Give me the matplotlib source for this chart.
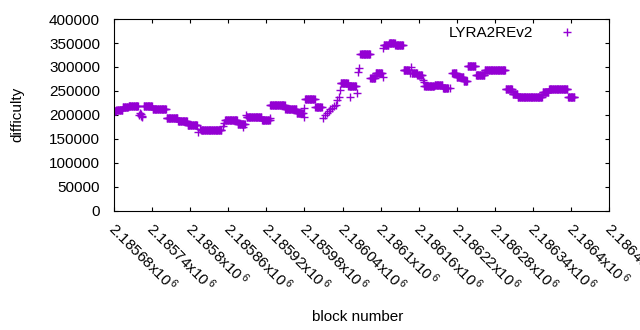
import matplotlib.pyplot as plt
import numpy as np
from matplotlib import transforms

plt.rcParams['font.family'] = ['Liberation Sans', 'DejaVu Sans']
plt.rcParams['mathtext.fontset'] = 'custom'
plt.rcParams['mathtext.rm'] = 'Liberation Sans'
plt.rcParams['mathtext.it'] = 'Liberation Sans'

base = 2185680  # first block on the x axis

# runs of blocks with (about) the same difficulty: start offset, end offset, difficulty
run_start = [0, 4, 14, 23, 47, 61, 83, 101, 116, 137, 175, 195, 209, 233, 246, 270, 288,
             301, 317, 357, 369, 388, 404, 412, 425, 433, 443, 456, 469, 478, 489, 505,
             518, 533, 540, 551, 557, 570, 584, 617, 628, 636, 675, 685, 693, 715]
run_end = [4, 14, 23, 39, 61, 83, 101, 116, 132, 170, 195, 207, 233, 246, 270, 288, 298,
           317, 328, 369, 382, 404, 412, 423, 433, 443, 456, 465, 478, 486, 505, 518,
           527, 540, 551, 557, 570, 584, 617, 628, 636, 675, 685, 693, 715, 726]
run_diff = [208000, 211000, 215500, 218600, 218600, 211300, 192500, 186200, 179000, 168400,
            189300, 181000, 195500, 189000, 220500, 212300, 203000, 233000, 215500, 266700,
            260000, 327000, 278000, 286600, 347000, 351000, 345000, 294000, 286600, 283000,
            260500, 262500, 256000, 287000, 279000, 271000, 303000, 283500, 293000, 253000,
            243700, 236400, 246800, 253000, 255000, 236400]

# single blocks that stand apart from the runs
pt_off = [40, 41, 42, 43, 44, 45, 133, 135, 171, 173, 203, 208, 245, 299, 300,
          329, 332, 335, 338, 341, 343, 346, 349, 352, 354, 356,
          372, 383, 385, 386, 423, 424, 466, 467, 487, 488, 529]
pt_diff = [199000, 203000, 197000, 201000, 195000, 198000, 165000, 171000, 176000, 182000,
           175000, 200000, 193000, 195000, 214000,
           193500, 199000, 204000, 208000, 212000, 214000, 218000, 221000, 230000, 237000, 251000,
           238000, 245000, 290000, 298000, 279000, 340000, 287000, 300000, 272000, 268000, 256000]

xs, ys = [], []
for s, e, d in zip(run_start, run_end, run_diff):
    for b in range(s, e):
        xs.append(base + b)
        ys.append(d)
xs += [base + o for o in pt_off]
ys += pt_diff

xticks = np.arange(2185680, 2186461, 60)
xticklabels = [r'%gx10$\,^{6}$' % (t / 1e6) for t in xticks]

fig = plt.figure(figsize=(6.4, 3.3), dpi=100)
ax = fig.add_axes([0.178, 0.362, 0.774, 0.580])

ax.plot(xs, ys, '+', color='#9400d3', markersize=5.8, markeredgewidth=1.0,
        label='LYRA2REv2', linestyle='none')

ax.set_xlim(2185680, 2186460)
ax.set_ylim(0, 400000)
ax.set_yticks(np.arange(0, 400001, 50000))
ax.set_xticks(xticks)
ax.set_xticklabels(xticklabels, rotation=-45, ha='left', va='center',
                   rotation_mode='anchor', fontsize=11)
ax.tick_params(direction='in', length=3, width=0.8, top=True, right=True,
               labelsize=11)
ax.tick_params(axis='y', pad=10)
ax.tick_params(axis='x', pad=11)
shift = transforms.ScaledTranslation(-2 / 100, 0, fig.dpi_scale_trans)
for t in ax.get_xticklabels():
    t.set_transform(t.get_transform() + shift)

ax.set_xlabel('block number', fontsize=11, va='top')
ax.xaxis.set_label_coords(0.493, -0.52)
ax.set_ylabel('difficulty', fontsize=11)
ax.yaxis.set_label_coords(-0.18, 0.5)

ax.legend(loc='upper right', frameon=False, markerfirst=False, fontsize=11,
          handlelength=1.0, handletextpad=1.7, borderaxespad=0, borderpad=0,
          bbox_to_anchor=(0.930, 0.963))

fig.savefig('out.png', dpi=100)
